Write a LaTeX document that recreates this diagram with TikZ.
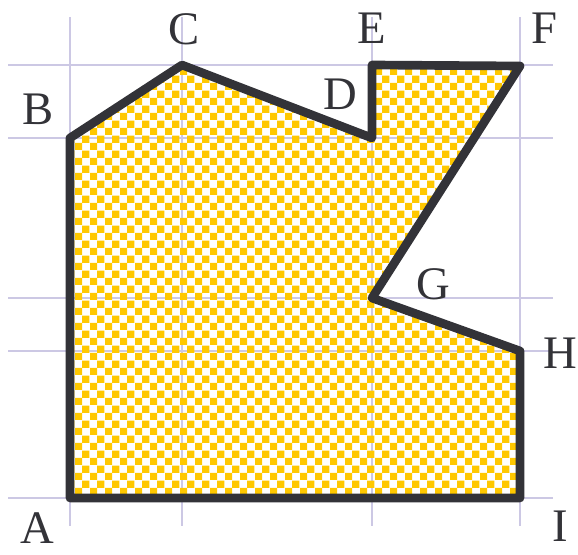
\documentclass[tikz,border=0pt]{standalone}
\usepackage{fontspec}
\setmainfont{Liberation Serif}
\usetikzlibrary{patterns}
\definecolor{gridlav}{HTML}{CCC8E4}
\definecolor{checkyellow}{HTML}{FFC800}
\definecolor{edgedark}{HTML}{333338}
\tikzset{
    gridline/.style={draw=gridlav, line width=2.2pt}
}
\tikzset{
    outline/.style={draw=edgedark, line width=6.5pt, line join=round}
}
\tikzset{
    every node/.style={inner sep=0pt, text=edgedark,
    	font=\fontsize{35}{35}\selectfont}
}

\begin{document}
\begin{tikzpicture}[x=0.75pt, y=-0.75pt]
	\useasboundingbox (0,0) rectangle (578,555);
	% grid
	\foreach \gx in {70,182,372,520}
		\draw[gridline] (\gx,17) -- (\gx,526);
	\foreach \gy in {65,138,298,351,498}
		\draw[gridline] (8,\gy) -- (553,\gy);

	\coordinate (A) at (70,498);
	\coordinate (B) at (70,138);
	\coordinate (C) at (182,65);
	\coordinate (D) at (372,138);
	\coordinate (E) at (372,65);
	\coordinate (F) at (520,66);
	\coordinate (G) at (372,298);
	\coordinate (H) at (520,351);
	\coordinate (I) at (520,498);

	\fill[pattern=checkerboard, pattern color=checkyellow]
		(A) -- (B) -- (C) -- (D) -- (E) -- (F) -- (G) -- (H) -- (I) -- cycle;
	\draw[outline]
		(A) -- (B) -- (C) -- (D) -- (E) -- (F) -- (G) -- (H) -- (I) -- cycle;

	\node (lA) at (37,528) {A};
	\node (lB) at (38,109) {B};
	\node (lC) at (184,29) {C};
	\node (lD) at (340,94) {D};
	\node (lE) at (372,28) {E};
	\node (lF) at (544,28) {F};
	\node (lG) at (433,284) {G};
	\node (lH) at (560,353) {H};
	\node (lI) at (560,526) {I};
\end{tikzpicture}
\end{document}
